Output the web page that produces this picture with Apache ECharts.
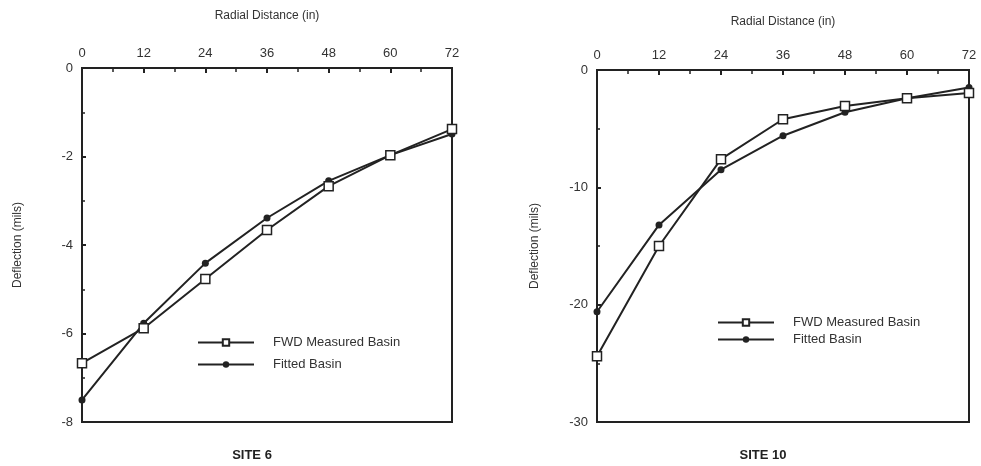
<!DOCTYPE html>
<html>
<head>
<meta charset="utf-8">
<script src="https://cdn.jsdelivr.net/npm/echarts@6/dist/echarts.min.js"></script>
<style>
  html, body { margin: 0; padding: 0; background: #fff; }
  #chart { width: 981px; height: 466px; }
</style>
</head>
<body>
<div id="chart"></div>
<script>
const radial = [0, 12, 24, 36, 48, 60, 72];

// site 6
const site6Measured = [-6.67, -5.88, -4.77, -3.66, -2.67, -1.97, -1.38];
const site6Fitted = [-7.5, -5.77, -4.41, -3.39, -2.55, -1.97, -1.49];

// site 10
const site10Measured = [-24.4, -15.0, -7.6, -4.2, -3.07, -2.4, -1.96];
const site10Fitted = [-20.6, -13.2, -8.5, -5.6, -3.6, -2.4, -1.5];

const seriesNames = ['FWD Measured Basin', 'Fitted Basin'];
const siteTitles = ['SITE 6', 'SITE 10'];

const ink = '#222';
const font = 'Liberation Sans, Arial, sans-serif';

const chart = echarts.init(document.getElementById('chart'));

function pairs(vals) {
    return radial.map((x, i) => [x, vals[i]]);
}

function xAxisFor(idx, gap) {
    return {
        type: 'value', gridIndex: idx, position: 'top',
        min: 0, max: 72, interval: 12,
        name: 'Radial Distance (in)', nameLocation: 'middle', nameGap: gap,
        nameTextStyle: { color: '#333', fontSize: 12, fontFamily: font },
        axisLine: { lineStyle: { color: ink, width: 2 } },
        axisTick: { inside: true, length: 5, lineStyle: { color: ink, width: 2 } },
        minorTick: { show: true, splitNumber: 2, length: 4, lineStyle: { color: ink, width: 1.5 } },
        axisLabel: { color: '#333', fontSize: 13, fontFamily: font, margin: 8 },
        splitLine: { show: false }
    };
}

function yAxisFor(idx, min, step, gap) {
    return {
        type: 'value', gridIndex: idx,
        min: min, max: 0, interval: step,
        name: 'Deflection (mils)', nameLocation: 'middle', nameGap: gap, nameRotate: 90,
        nameTextStyle: { color: '#333', fontSize: 12, fontFamily: font },
        axisLine: { show: true, lineStyle: { color: ink, width: 2 } },
        axisTick: { inside: true, length: 4, lineStyle: { color: ink, width: 2 } },
        minorTick: { show: true, splitNumber: 2, length: 3, lineStyle: { color: ink, width: 1.5 } },
        axisLabel: { color: '#333', fontSize: 13, fontFamily: font, margin: 9 },
        splitLine: { show: false }
    };
}

function measured(idx, vals) {
    return {
        name: seriesNames[0], type: 'line', xAxisIndex: idx, yAxisIndex: idx,
        data: pairs(vals),
        symbol: 'rect', symbolSize: 9,
        lineStyle: { color: ink, width: 2 },
        itemStyle: { color: '#fff', borderColor: ink, borderWidth: 1.5 },
        z: 3
    };
}

function fitted(idx, vals) {
    return {
        name: seriesNames[1], type: 'line', xAxisIndex: idx, yAxisIndex: idx,
        data: pairs(vals),
        symbol: 'circle', symbolSize: 7,
        lineStyle: { color: ink, width: 2 },
        itemStyle: { color: ink },
        z: 2
    };
}

function legendFor(left, top, gap) {
    return {
        orient: 'vertical', left: left, top: top,
        itemWidth: 56, itemHeight: 8, itemGap: gap,
        data: seriesNames,
        textStyle: { color: '#333', fontSize: 13, fontFamily: font, padding: [0, 0, 0, 14] }
    };
}

const option = {
    animation: false,
    backgroundColor: '#fff',
    title: [
        { text: siteTitles[0], left: 247, top: 444, textAlign: 'center',
          textStyle: { fontSize: 13, fontWeight: 'bold', color: '#222', fontFamily: font } },
        { text: siteTitles[1], left: 758, top: 444, textAlign: 'center',
          textStyle: { fontSize: 13, fontWeight: 'bold', color: '#222', fontFamily: font } }
    ],
    grid: [
        { left: 82, right: 529, top: 68, bottom: 44, show: true, borderColor: ink, borderWidth: 2 },
        { left: 597, right: 12, top: 70, bottom: 44, show: true, borderColor: ink, borderWidth: 2 }
    ],
    legend: [legendFor(192, 331, 9), legendFor(712, 311, 4)],
    xAxis: [xAxisFor(0, 46), xAxisFor(1, 42)],
    yAxis: [yAxisFor(0, -8, 2, 58), yAxisFor(1, -30, 10, 56)],
    series: [
        measured(0, site6Measured), fitted(0, site6Fitted),
        measured(1, site10Measured), fitted(1, site10Fitted)
    ]
};

chart.setOption(option);
</script>
</body>
</html>
